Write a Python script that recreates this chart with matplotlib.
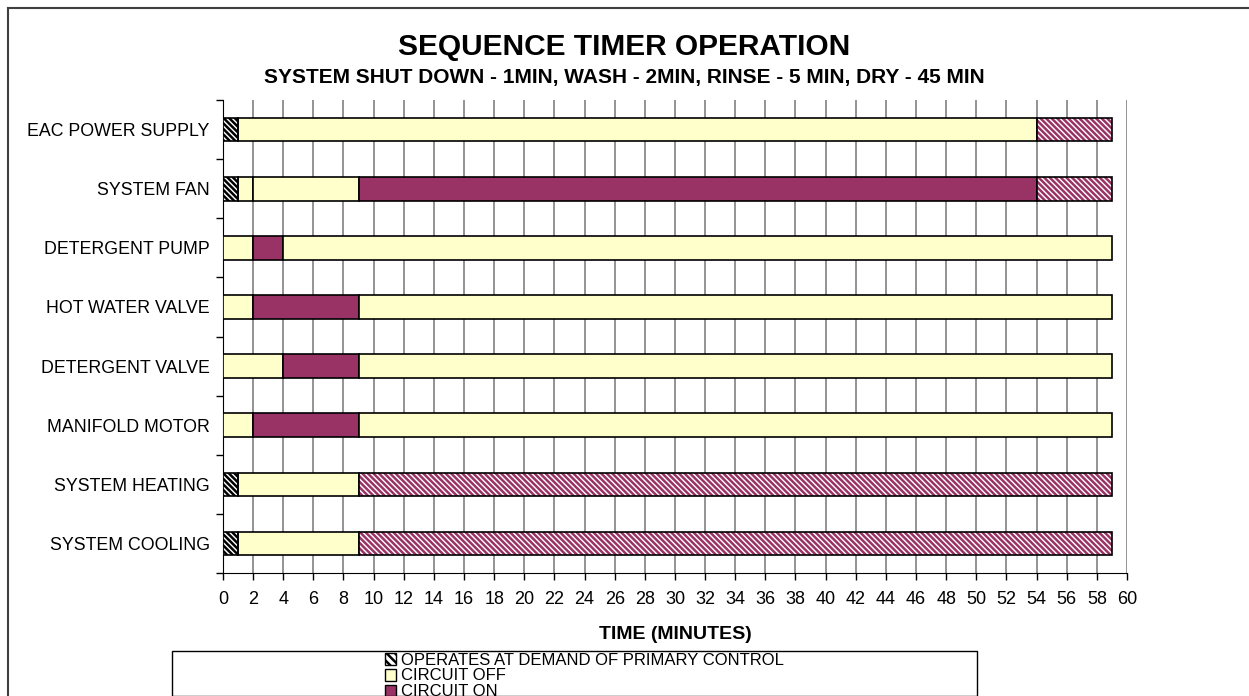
import matplotlib.pyplot as plt
from matplotlib.patches import Rectangle
from matplotlib.lines import Line2D

plt.rcParams['font.family'] = ['Liberation Sans', 'DejaVu Sans']
plt.rcParams['hatch.linewidth'] = 1.8

# rows, top to bottom
circuits = ["EAC POWER SUPPLY", "SYSTEM FAN", "DETERGENT PUMP", "HOT WATER VALVE",
            "DETERGENT VALVE", "MANIFOLD MOTOR", "SYSTEM HEATING", "SYSTEM COOLING"]

# segments per row: (start, end, state)
# states: "demand" = operates at demand of primary control, "off", "on", "on_demand"
segments = [
    [(0, 1, "demand"), (1, 54, "off"), (54, 59, "on_demand")],
    [(0, 1, "demand"), (1, 2, "off"), (2, 9, "off"), (9, 54, "on"), (54, 59, "on_demand")],
    [(0, 2, "off"), (2, 4, "on"), (4, 59, "off")],
    [(0, 2, "off"), (2, 9, "on"), (9, 59, "off")],
    [(0, 4, "off"), (4, 9, "on"), (9, 59, "off")],
    [(0, 2, "off"), (2, 9, "on"), (9, 59, "off")],
    [(0, 1, "demand"), (1, 9, "off"), (9, 59, "on_demand")],
    [(0, 1, "demand"), (1, 9, "off"), (9, 59, "on_demand")],
]

legend_labels = ["OPERATES AT DEMAND OF PRIMARY CONTROL", "CIRCUIT OFF", "CIRCUIT ON"]
x_ticks = list(range(0, 61, 2))

OFF = "#FFFFCC"
ON = "#993366"
HATCH = "\\" * 6

fig = plt.figure(figsize=(12.49, 6.96), dpi=100)
ax = fig.add_axes([0.1785, 0.1767, 0.7238, 0.6796])

bar_h = 0.4
for i, row in enumerate(segments):
    for start, end, state in row:
        w = end - start
        if state == "off":
            ax.barh(i, w, left=start, height=bar_h, color=OFF, edgecolor="black", linewidth=1.2, zorder=3)
        elif state == "on":
            ax.barh(i, w, left=start, height=bar_h, color=ON, edgecolor="black", linewidth=1.2, zorder=3)
        else:
            hc = "black" if state == "demand" else ON
            ax.barh(i, w, left=start, height=bar_h, color="white", edgecolor=hc, hatch=HATCH,
                    linewidth=0, zorder=3)
            ax.barh(i, w, left=start, height=bar_h, color="none", edgecolor="black", linewidth=1.2, zorder=4)

ax.set_ylim(len(circuits) - 0.5, -0.5)
ax.set_xlim(0, 60)
ax.set_yticks(range(len(circuits)))
ax.set_yticklabels(circuits, fontsize=12.8)
ax.set_yticks([k - 0.5 for k in range(len(circuits) + 1)], minor=True)
ax.tick_params(axis="y", which="major", length=0, pad=9.5)
ax.tick_params(axis="y", which="minor", length=5, width=1, direction="out")

ax.set_xticks(x_ticks)
ax.set_xticklabels([str(t) for t in x_ticks], fontsize=13)
ax.tick_params(axis="x", length=5, width=1, direction="out", pad=8)
ax.grid(axis="x", color="#808080", linewidth=1.2, zorder=0)
ax.set_axisbelow(True)

ax.spines["top"].set_visible(False)
ax.spines["right"].set_visible(False)
ax.spines["left"].set_color("black")
ax.spines["bottom"].set_color("black")

ax.set_xlabel("TIME (MINUTES)", fontsize=14, fontweight="bold", labelpad=13)

fig.text(0.5, 1 - 47 / 696, "SEQUENCE TIMER OPERATION", ha="center", va="center",
         fontsize=21.5, fontweight="bold")
fig.text(0.5, 1 - 78 / 696, "SYSTEM SHUT DOWN - 1MIN, WASH - 2MIN, RINSE - 5 MIN, DRY - 45 MIN",
         ha="center", va="center", fontsize=15, fontweight="bold")

# outer chart frame
fig.add_artist(Line2D([8 / 1249, 8 / 1249], [0, 1 - 8 / 696], color="#404040", linewidth=1.5))
fig.add_artist(Line2D([8 / 1249, 1], [1 - 8 / 696, 1 - 8 / 696], color="#404040", linewidth=1.5))

# legend box
fig.add_artist(Rectangle((172 / 1249, 0), (977 - 172) / 1249, (696 - 651) / 696,
                         transform=fig.transFigure, facecolor="white", edgecolor="black", linewidth=1))
handles = [
    Rectangle((0, 0), 1, 1, facecolor="white", edgecolor="black", hatch="\\\\\\\\", linewidth=1),
    Rectangle((0, 0), 1, 1, facecolor=OFF, edgecolor="black", linewidth=1),
    Rectangle((0, 0), 1, 1, facecolor=ON, edgecolor="black", linewidth=1),
]
leg = fig.legend(handles, legend_labels, loc="upper left", bbox_to_anchor=(383 / 1249, 1 - 651 / 696),
                 frameon=False, fontsize=12, labelspacing=0.05, handlelength=0.7, handleheight=0.7,
                 handletextpad=0.3, borderpad=0.1, borderaxespad=0)

fig.savefig("out.png", dpi=100)
